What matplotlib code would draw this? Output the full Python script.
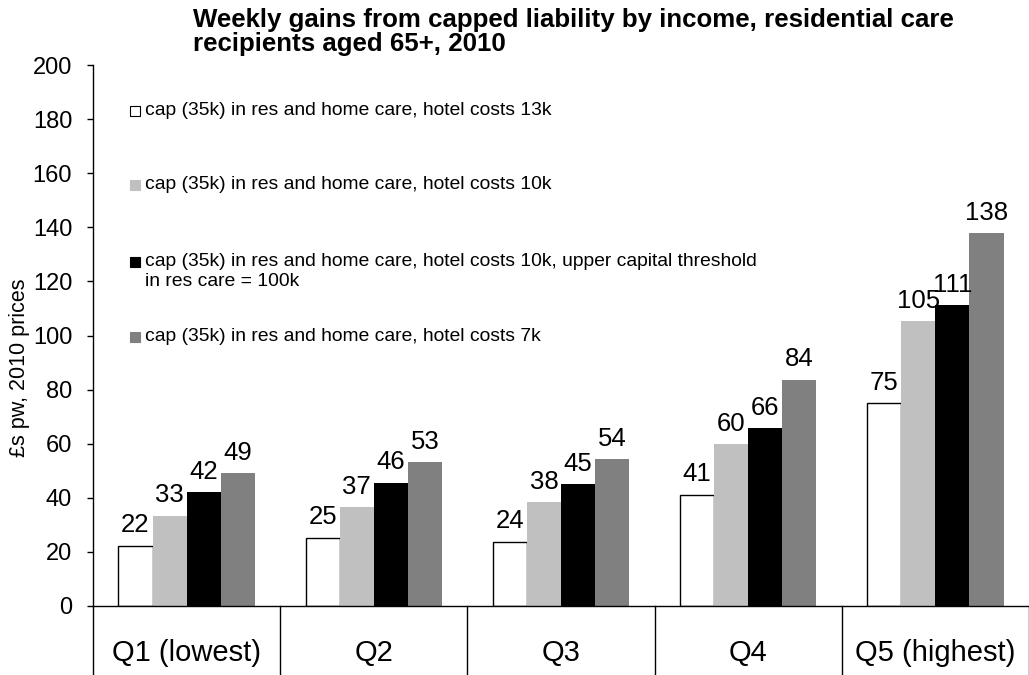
import matplotlib
matplotlib.use("Agg")
import matplotlib.pyplot as plt
from matplotlib.patches import Rectangle
import numpy as np

plt.rcParams['font.family'] = ['Liberation Sans', 'DejaVu Sans']

categories = ["Q1 (lowest)", "Q2", "Q3", "Q4", "Q5 (highest)"]
series_labels = [
    "cap (35k) in res and home care, hotel costs 13k",
    "cap (35k) in res and home care, hotel costs 10k",
    "cap (35k) in res and home care, hotel costs 10k, upper capital threshold\nin res care = 100k",
    "cap (35k) in res and home care, hotel costs 7k",
]
hotel13 = [22, 25, 24, 41, 75]
hotel10 = [33, 37, 38, 60, 105]
hotel10_uct = [42, 46, 45, 66, 111]
hotel7 = [49, 53, 54, 84, 138]
series = [hotel13, hotel10, hotel10_uct, hotel7]
# more precise bar heights
bar_heights = [
    [22.3, 25.3, 23.8, 41.2, 75.0],
    [33.4, 36.5, 38.5, 59.8, 105.3],
    [42.2, 45.6, 45.2, 65.8, 111.2],
    [49.2, 53.2, 54.4, 83.7, 138.0],
]
colors = ["#FFFFFF", "#C0C0C0", "#000000", "#808080"]
edges = ["#000000", "#C0C0C0", "#000000", "#808080"]
yticks = list(range(0, 201, 20))

W, H = 1029, 675
fig = plt.figure(figsize=(W / 100, H / 100), dpi=100)
ax = fig.add_axes([93 / W, 1 - 606 / H, (1029 - 93) / W, (606 - 65) / H])

x = np.arange(len(categories))
bw = 0.182
for i, (vals, hts) in enumerate(zip(series, bar_heights)):
    off = (i - 1.5) * bw
    ax.bar(x + off, hts, width=bw, color=colors[i], edgecolor=edges[i],
           linewidth=1.0 if i == 0 else 0.0, zorder=2)
    for xi, v, h in zip(x, vals, hts):
        ax.annotate(str(v), (xi + off, h), xytext=(0, 9.5), textcoords='offset points',
                    ha='center', va='baseline', fontsize=18.5)

ax.set_xlim(-0.5, 4.5)
ax.set_ylim(0, 200)
ax.set_yticks(yticks)
ax.set_yticklabels([str(t) for t in yticks], fontsize=17)
ax.tick_params(axis='y', direction='out', length=4, width=1, pad=11)
ax.set_xticks([])
for s in ['top', 'right']:
    ax.spines[s].set_visible(False)
for s in ['left', 'bottom']:
    ax.spines[s].set_linewidth(1.0)
    ax.spines[s].set_color('black')

trans = ax.get_xaxis_transform()
for b in np.arange(-0.5, 4.6, 1.0):
    ax.plot([b, b], [0, -0.14], transform=trans, color='black', lw=1.0, clip_on=False)
for xi, c in zip(x, categories):
    ax.text(xi, -0.087, c, transform=trans, ha='center', va='center', fontsize=21)

# legend (manual, inside plot area)
leg_y = [111, 185, 262, 337]
for lab, col, ec, yp in zip(series_labels, colors, edges, leg_y):
    fig.patches.append(Rectangle((130 / W, 1 - (yp + 5) / H), 10 / W, 10 / H,
                                 facecolor=col, edgecolor='black' if col == '#FFFFFF' else col,
                                 linewidth=0.8, transform=fig.transFigure, figure=fig))
    fig.text(145 / W, 1 - (yp - 9) / H, lab, ha='left', va='top', fontsize=13.9,
             linespacing=1.25)

fig.text(193 / W, 1 - 8 / H,
         "Weekly gains from capped liability by income, residential care\nrecipients aged 65+, 2010",
         ha='left', va='top', fontsize=18.6, fontweight='bold', linespacing=1.0)
fig.text(20 / W, 1 - 368 / H, "£s pw, 2010 prices", rotation=90, ha='center', va='center',
         fontsize=15.5)

fig.savefig("out.png", dpi=100)
